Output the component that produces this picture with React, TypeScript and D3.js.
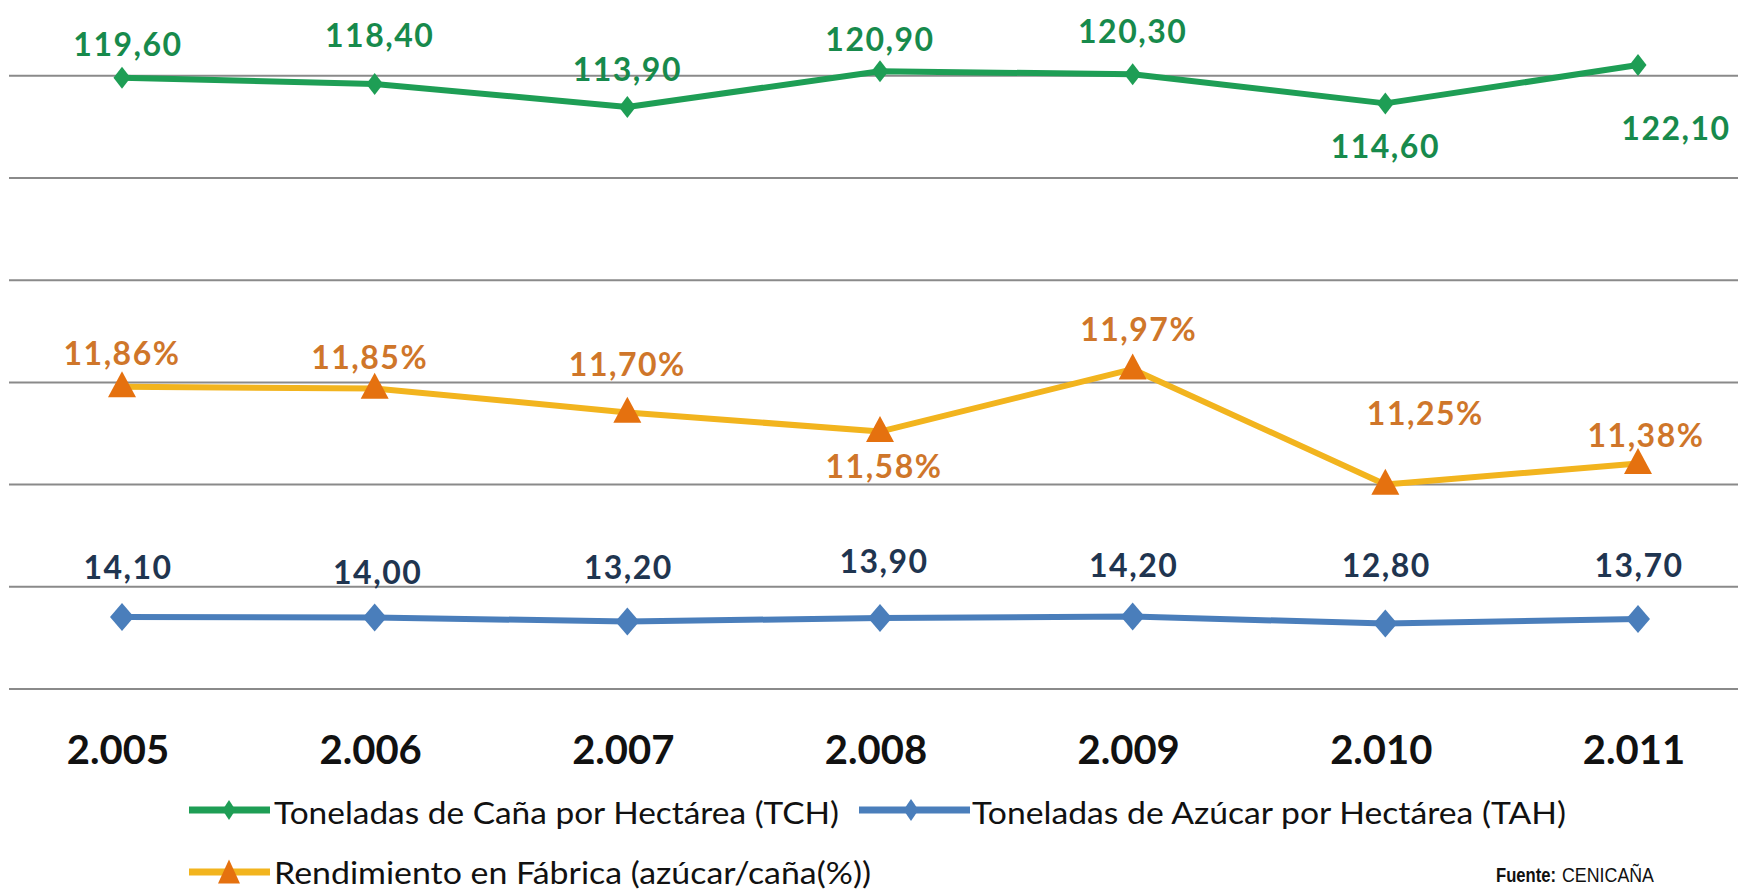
import React from "react";
import * as d3 from "d3";

const years = ["2.005", "2.006", "2.007", "2.008", "2.009", "2.010", "2.011"];
const tch = [119.6, 118.4, 113.9, 120.9, 120.3, 114.6, 122.1];
const tah = [14.1, 14.0, 13.2, 13.9, 14.2, 12.8, 13.7];
const rend = [11.86, 11.85, 11.7, 11.58, 11.97, 11.25, 11.38];
const gridTicks = [0, 20, 40, 60, 80, 100, 120];
const legendNames = [
  "Toneladas de Caña por Hectárea (TCH)",
  "Toneladas de Azúcar por Hectárea (TAH)",
  "Rendimiento en Fábrica (azúcar/caña(%))",
];
const sourceLabel = "Fuente:";
const sourceName = "CENICAÑA";

// label offsets (style only)
const tchOff = [[6, -34], [5, -49], [0, -38], [0, -33], [0, -44], [0, 42], [38, 62]];
const rendOff = [[0, -34], [-5, -32], [0, -49], [4, 34], [6, -41], [40, -72], [8, -29]];
const tahOff = [[6, -50], [3, -46], [1, -55], [4, -57], [1, -52], [1, -59], [1, -54]];

const W = 1738;
const H = 892;
const GREEN = "#1e9e55";
const GREEN_T = "#178a4c";
const BLUE = "#4a7ebb";
const BLUE_T = "#1f3550";
const GOLD = "#f2b41e";
const ORANGE = "#e5710f";
const ORANGE_T = "#cf762a";
const FONT = "Lato, 'Open Sans', sans-serif";
const NARROW = "'Liberation Sans Narrow', 'Liberation Sans', sans-serif";

const fmt = (v: number, d: number) => v.toFixed(d).replace(".", ",");

function diamond(x: number, y: number, w: number, h: number) {
  return `M${x},${y - h / 2}L${x + w / 2},${y}L${x},${y + h / 2}L${x - w / 2},${y}Z`;
}
function tri(x: number, y: number, w: number, h: number) {
  return `M${x},${y - h * 0.6}L${x + w / 2},${y + h * 0.4}L${x - w / 2},${y + h * 0.4}Z`;
}

const labelProps = {
  textAnchor: "middle" as const,
  dominantBaseline: "central" as const,
  fontFamily: FONT,
  fontWeight: 700,
  fontSize: 32,
  letterSpacing: 1.5,
};

export default function App() {
  const x = d3.scalePoint<string>().domain(years).range([122, 1638]);
  const yP = d3.scaleLinear().domain([0, 140]).range([689, 689 - 140 * 5.11]);
  const yS = d3.scaleLinear().domain([10, 14]).range([684.4, 684.4 - 4 * 160]);

  const line = (vals: number[], ys: d3.ScaleLinear<number, number>) =>
    d3.line<number>().x((_, i) => x(years[i])!).y((v) => ys(v))(vals) || "";

  return (
    <svg
      width={W}
      height={H}
      style={{ position: "absolute", left: 0, top: 0, background: "#fff" }}
    >
      <rect width={W} height={H} fill="#fff" />
      {gridTicks.map((t) => (
        <line key={t} x1={9} x2={W} y1={yP(t)} y2={yP(t)} stroke="#8a8a8a" strokeWidth={2} />
      ))}

      {/* TCH */}
      <path d={line(tch, yP)} fill="none" stroke={GREEN} strokeWidth={6} strokeLinejoin="round" />
      {tch.map((v, i) => (
        <path key={i} d={diamond(x(years[i])!, yP(v), 17, 22)} fill={GREEN} />
      ))}
      {tch.map((v, i) => (
        <text key={i} x={x(years[i])! + tchOff[i][0]} y={yP(v) + tchOff[i][1]} fill={GREEN_T} {...labelProps}>
          {fmt(v, 2)}
        </text>
      ))}

      {/* Rendimiento */}
      <path d={line(rend, yS)} fill="none" stroke={GOLD} strokeWidth={6} strokeLinejoin="round" />
      {rend.map((v, i) => (
        <path key={i} d={tri(x(years[i])!, yS(v), 28, 26)} fill={ORANGE} />
      ))}
      {rend.map((v, i) => (
        <text key={i} x={x(years[i])! + rendOff[i][0]} y={yS(v) + rendOff[i][1]} fill={ORANGE_T} {...labelProps}>
          {fmt(v, 2) + "%"}
        </text>
      ))}

      {/* TAH */}
      <path d={line(tah, yP)} fill="none" stroke={BLUE} strokeWidth={6} strokeLinejoin="round" />
      {tah.map((v, i) => (
        <path key={i} d={diamond(x(years[i])!, yP(v), 24, 28)} fill={BLUE} />
      ))}
      {tah.map((v, i) => (
        <text key={i} x={x(years[i])! + tahOff[i][0]} y={yP(v) + tahOff[i][1]} fill={BLUE_T} {...labelProps}>
          {fmt(v, 2)}
        </text>
      ))}

      {/* category labels */}
      {years.map((yr) => (
        <text
          key={yr}
          x={x(yr)! - 4}
          y={764}
          textAnchor="middle"
          fontFamily={FONT}
          fontWeight={700}
          fontSize={40}
          fill="#111"
        >
          {yr}
        </text>
      ))}

      {/* legend */}
      <g>
        <line x1={189} x2={270} y1={810} y2={810} stroke={GREEN} strokeWidth={7} />
        <path d={diamond(229, 810, 13, 20)} fill={GREEN} />
        <text x={274} y={812} dominantBaseline="central" fontFamily={FONT} fontSize={31} fill="#111" textLength={565} lengthAdjust="spacingAndGlyphs">
          {legendNames[0]}
        </text>
        <line x1={859} x2={970} y1={810} y2={810} stroke={BLUE} strokeWidth={7} />
        <path d={diamond(911, 810, 15, 22)} fill={BLUE} />
        <text x={972} y={812} dominantBaseline="central" fontFamily={FONT} fontSize={31} fill="#111" textLength={594} lengthAdjust="spacingAndGlyphs">
          {legendNames[1]}
        </text>
        <line x1={189} x2={270} y1={872} y2={872} stroke={GOLD} strokeWidth={7} />
        <path d={tri(229, 874, 22, 24)} fill={ORANGE} />
        <text x={274} y={872} dominantBaseline="central" fontFamily={FONT} fontSize={30} fill="#111" textLength={597} lengthAdjust="spacingAndGlyphs">
          {legendNames[2]}
        </text>
      </g>

      <text x={1496} y={875} dominantBaseline="central" fontFamily={NARROW} fontWeight={700} fontSize={20} fill="#111" textLength={60} lengthAdjust="spacingAndGlyphs">
        {sourceLabel}
      </text>
      <text x={1562} y={875} dominantBaseline="central" fontFamily={NARROW} fontSize={20} fill="#111" textLength={92} lengthAdjust="spacingAndGlyphs">
        {sourceName}
      </text>
    </svg>
  );
}
